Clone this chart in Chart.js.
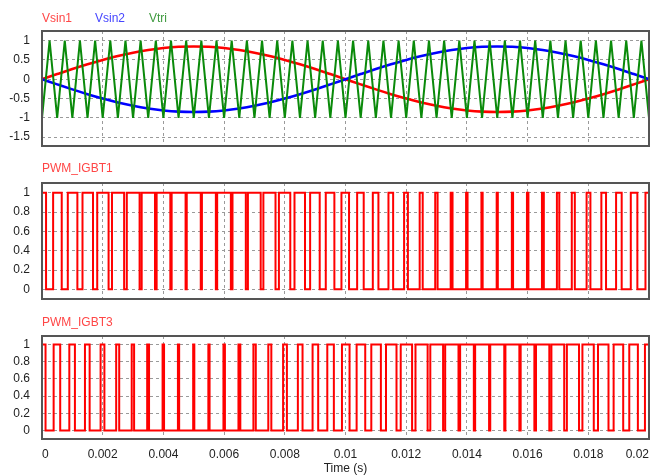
<!DOCTYPE html>
<html lang="en">
<head>
<meta charset="UTF-8">
<title>SPWM waveforms</title>
<script src="https://cdn.jsdelivr.net/npm/chart.js"></script>
<style>
  body { margin: 0; background: #fff; }
  .wrap { position: relative; width: 661px; height: 475px; overflow: hidden; }
  .wrap canvas { position: absolute; left: 0; }
  .label { position: absolute; font: 12px 'Liberation Sans Narrow', 'Liberation Sans', Arial, sans-serif; line-height: 14px; white-space: nowrap; }
</style>
</head>
<body>
<div class="wrap">
  <canvas id="chartSine" width="661" height="150" style="top:0"></canvas>
  <canvas id="chartIgbt1" width="661" height="150" style="top:150px"></canvas>
  <canvas id="chartIgbt3" width="661" height="175" style="top:300px"></canvas>
  <span class="label" style="left:42px; top:11px; color:#ff4646">Vsin1</span>
  <span class="label" style="left:95px; top:11px; color:#4646ff">Vsin2</span>
  <span class="label" style="left:149px; top:11px; color:#3f9a3f">Vtri</span>
  <span class="label" style="left:42px; top:161px; color:#ff4646">PWM_IGBT1</span>
  <span class="label" style="left:42px; top:315px; color:#ff4646">PWM_IGBT3</span>
</div>
<script>
    // time axis (s)
    const timeTicks = [0, 0.002, 0.004, 0.006, 0.008, 0.01, 0.012, 0.014, 0.016, 0.018, 0.02];
    const sineTicks = [-1.5, -1, -0.5, 0, 0.5, 1];
    const pwmTicks = [0, 0.2, 0.4, 0.6, 0.8, 1];

    // sine references, one sample every 0.5 ms
    const sineStep = 0.0005;
    const vsin1 = [0, 0.133, 0.263, 0.386, 0.5, 0.601, 0.688, 0.757, 0.808, 0.84, 0.85,
        0.84, 0.808, 0.757, 0.688, 0.601, 0.5, 0.386, 0.263, 0.133, 0,
        -0.133, -0.263, -0.386, -0.5, -0.601, -0.688, -0.757, -0.808, -0.84, -0.85,
        -0.84, -0.808, -0.757, -0.688, -0.601, -0.5, -0.386, -0.263, -0.133, 0];
    const vsin2 = [0, -0.133, -0.263, -0.386, -0.5, -0.601, -0.688, -0.757, -0.808, -0.84, -0.85,
        -0.84, -0.808, -0.757, -0.688, -0.601, -0.5, -0.386, -0.263, -0.133, 0,
        0.133, 0.263, 0.386, 0.5, 0.601, 0.688, 0.757, 0.808, 0.84, 0.85,
        0.84, 0.808, 0.757, 0.688, 0.601, 0.5, 0.386, 0.263, 0.133, 0];

    // triangle carrier corners, one every 0.25 ms
    const triStep = 0.00025;
    const vtri = [-1, 1, -1, 1, -1, 1, -1, 1, -1, 1, -1, 1, -1, 1, -1, 1, -1, 1, -1, 1,
        -1, 1, -1, 1, -1, 1, -1, 1, -1, 1, -1, 1, -1, 1, -1, 1, -1, 1, -1, 1,
        -1, 1, -1, 1, -1, 1, -1, 1, -1, 1, -1, 1, -1, 1, -1, 1, -1, 1, -1, 1,
        -1, 1, -1, 1, -1, 1, -1, 1, -1, 1, -1, 1, -1, 1, -1, 1, -1, 1, -1, 1, -1];

    // off-time (ms) of each switch in every 0.5 ms carrier period
    const carrierPeriod = 0.0005;
    const igbt1OffMs = [0.233, 0.200, 0.169, 0.139, 0.112, 0.088, 0.069, 0.054, 0.043, 0.038,
        0.038, 0.043, 0.054, 0.069, 0.088, 0.112, 0.139, 0.169, 0.200, 0.233,
        0.267, 0.300, 0.331, 0.361, 0.388, 0.412, 0.431, 0.446, 0.457, 0.462,
        0.462, 0.457, 0.446, 0.431, 0.412, 0.388, 0.361, 0.331, 0.300, 0.267];
    const igbt3OffMs = [0.267, 0.300, 0.331, 0.361, 0.388, 0.412, 0.431, 0.446, 0.457, 0.462,
        0.462, 0.457, 0.446, 0.431, 0.412, 0.388, 0.361, 0.331, 0.300, 0.267,
        0.233, 0.200, 0.169, 0.139, 0.112, 0.088, 0.069, 0.054, 0.043, 0.038,
        0.038, 0.043, 0.054, 0.069, 0.088, 0.112, 0.139, 0.169, 0.200, 0.233];

    const FONT = { family: "'Liberation Sans Narrow', 'Liberation Sans', Arial, sans-serif", size: 12 };
    const TEXT = '#222';

    function series(values, step) {
        return values.map((v, i) => ({ x: i * step, y: v }));
    }

    function pwmSteps(offMs) {
        const pts = [{ x: 0, y: 1 }];
        offMs.forEach((w, k) => {
            const c = (k + 0.5) * carrierPeriod;
            const h = w / 2000;
            pts.push({ x: c - h, y: 1 }, { x: c - h, y: 0 }, { x: c + h, y: 0 }, { x: c + h, y: 1 });
        });
        pts.push({ x: offMs.length * carrierPeriod, y: 1 });
        return pts;
    }

    function fmt(v) {
        return String(Number(v.toFixed(4)));
    }

    const framePlugin = {
        id: 'frame',
        afterDraw(chart) {
            const { ctx, chartArea: a } = chart;
            ctx.save();
            ctx.strokeStyle = '#555';
            ctx.lineWidth = 2;
            ctx.strokeRect(a.left, a.top, a.right - a.left, a.bottom - a.top);
            ctx.restore();
        }
    };

    function makeChart(id, datasets, yMin, yMax, yTicks, padTop, padBottom, showX) {
        const grid = { color: '#9a9a9a', lineWidth: 1, drawTicks: false };
        new Chart(document.getElementById(id), {
            type: 'line',
            data: { datasets },
            plugins: [framePlugin],
            options: {
                responsive: false,
                animation: false,
                events: [],
                layout: { padding: { left: 0, right: 12, top: padTop, bottom: padBottom } },
                plugins: { legend: { display: false }, tooltip: { enabled: false } },
                elements: { point: { radius: 0 } },
                scales: {
                    x: {
                        type: 'linear',
                        min: 0,
                        max: 0.02,
                        afterBuildTicks: axis => { axis.ticks = timeTicks.map(v => ({ value: v })); },
                        afterFit: axis => {
                            axis.height = showX ? 36 : 0;
                            axis.paddingLeft = 0;
                            axis.paddingRight = 0;
                        },
                        grid,
                        border: { display: false, dash: [3, 3] },
                        ticks: { display: showX, align: 'inner', padding: 8, color: TEXT, font: FONT, maxRotation: 0, callback: fmt },
                        title: { display: showX, text: 'Time (s)', color: TEXT, font: { ...FONT, lineHeight: 1 }, padding: { top: 0, bottom: 0 } }
                    },
                    y: {
                        min: yMin,
                        max: yMax,
                        afterBuildTicks: axis => { axis.ticks = yTicks.map(v => ({ value: v })); },
                        afterFit: axis => {
                            axis.width = 42;
                            axis.paddingTop = 0;
                            axis.paddingBottom = 0;
                        },
                        grid,
                        border: { display: false, dash: [3, 3] },
                        ticks: { padding: 12, color: TEXT, font: FONT, callback: fmt }
                    }
                }
            }
        });
    }

    makeChart('chartSine', [
        { label: 'Vtri', data: series(vtri, triStep), borderColor: '#0a8a0a', borderWidth: 2, order: 0 },
        { label: 'Vsin2', data: series(vsin2, sineStep), borderColor: '#0000ff', borderWidth: 2.6, cubicInterpolationMode: 'monotone', order: 1 },
        { label: 'Vsin1', data: series(vsin1, sineStep), borderColor: '#ff0000', borderWidth: 2.6, cubicInterpolationMode: 'monotone', order: 2 }
    ], -1.73, 1.25, sineTicks, 31, 4, false);

    makeChart('chartIgbt1', [
        { label: 'PWM_IGBT1', data: pwmSteps(igbt1OffMs), borderColor: '#ff0000', borderWidth: 2 }
    ], -0.1, 1.1, pwmTicks, 33, 1, false);

    makeChart('chartIgbt3', [
        { label: 'PWM_IGBT3', data: pwmSteps(igbt3OffMs), borderColor: '#ff0000', borderWidth: 2 }
    ], -0.1, 1.1, pwmTicks, 36, 0, true);
</script>
</body>
</html>
